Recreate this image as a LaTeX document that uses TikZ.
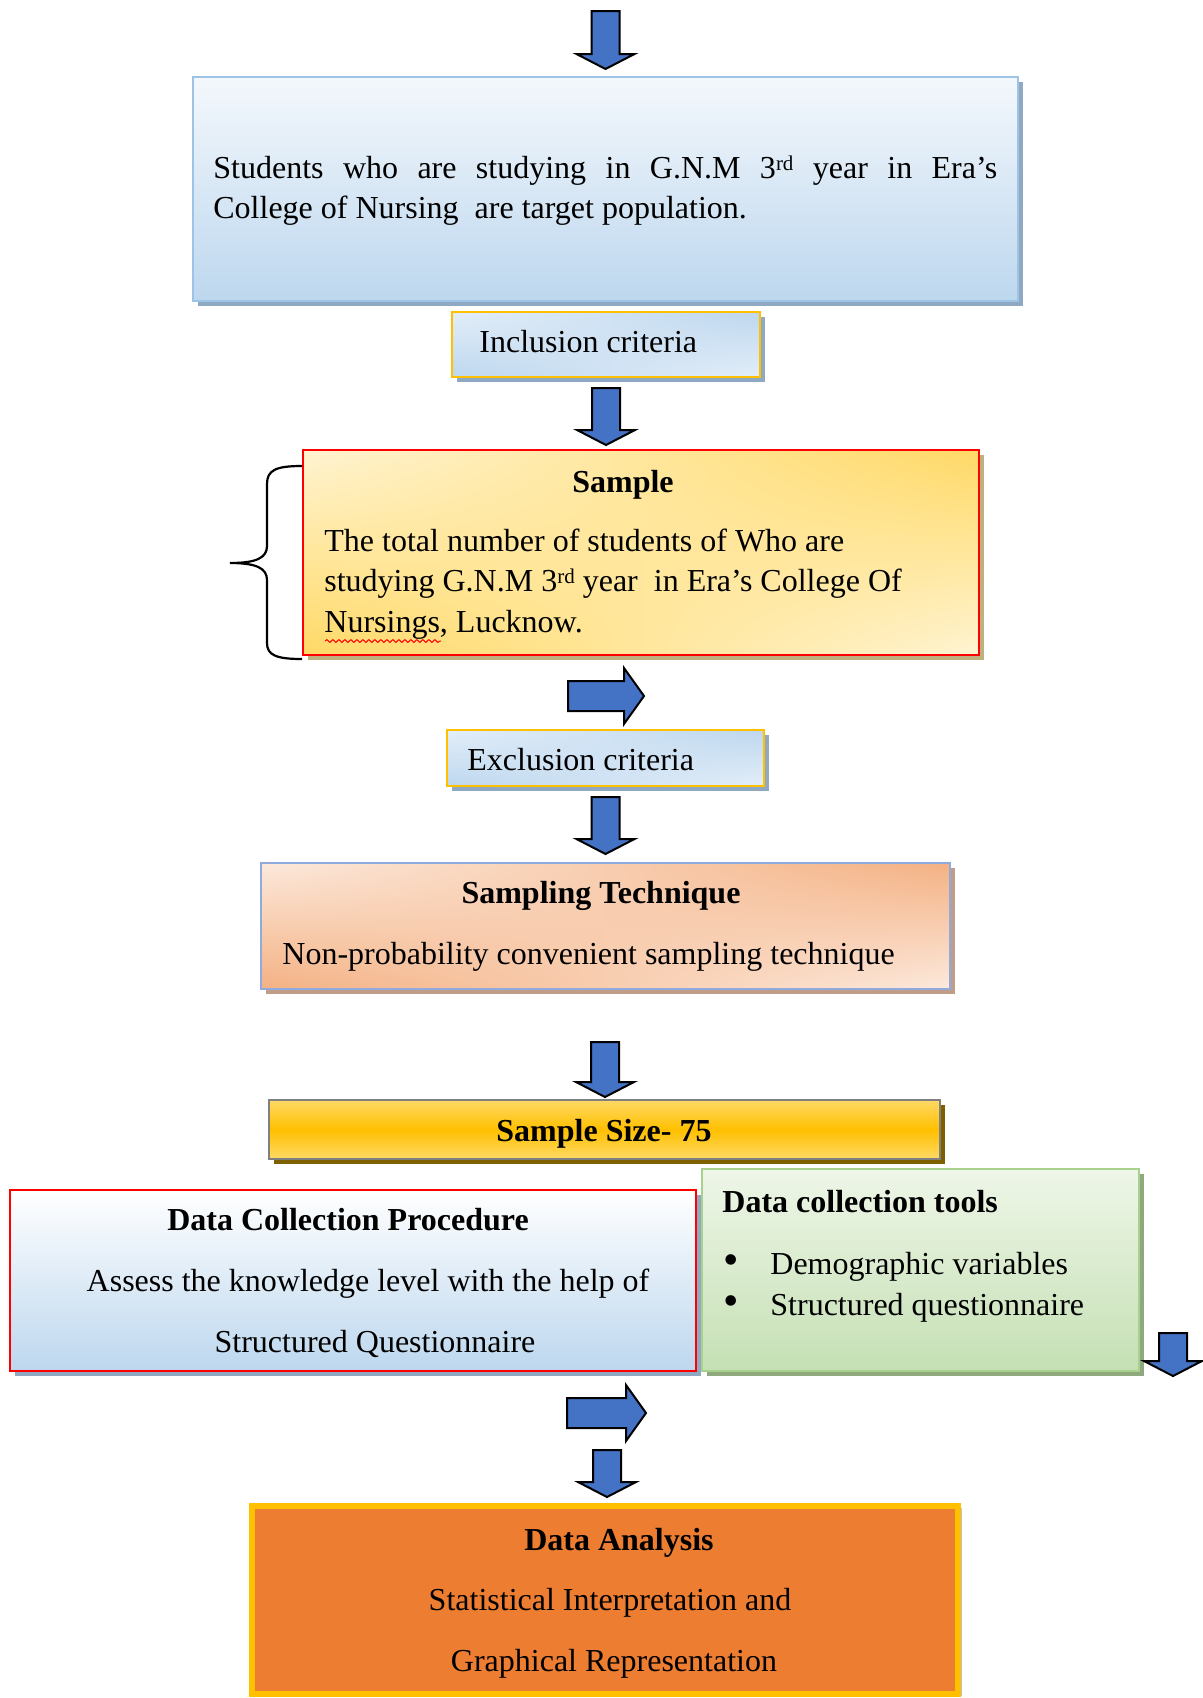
\documentclass[tikz,border=0pt]{standalone}
\usepackage{fontspec}
\setmainfont{Liberation Serif}
\usetikzlibrary{shadows,shadings,decorations.pathmorphing}
\definecolor{arrblue}{HTML}{4472C4}
\definecolor{arrdeep}{HTML}{0070C0}
\definecolor{bluelt}{HTML}{F4F8FC}
\definecolor{bluemd}{HTML}{E3EEF9}
\definecolor{bluedk}{HTML}{BDD7EE}
\definecolor{blueline}{HTML}{9DC3E6}
\definecolor{blueshad}{HTML}{8EA9C1}
\definecolor{goldline}{HTML}{FFC000}
\definecolor{yellt}{HTML}{FFF4D2}
\definecolor{yeldk}{HTML}{FFD966}
\definecolor{tanshad}{HTML}{BFB07F}
\definecolor{peachlt}{HTML}{FCE9DC}
\definecolor{peachdk}{HTML}{F4B183}
\definecolor{peachline}{HTML}{8FAADC}
\definecolor{peachshad}{HTML}{C19C88}
\definecolor{sizeshad}{HTML}{7F6000}
\definecolor{greenlt}{HTML}{EEF6E8}
\definecolor{greendk}{HTML}{C5E0B4}
\definecolor{greenline}{HTML}{A9D18E}
\definecolor{greenshad}{HTML}{8FA87D}
\definecolor{anaorange}{HTML}{ED7D31}
\newcommand{\supr}[1]{\raisebox{0.55ex}{\fontsize{10.5}{10}\selectfont #1}}
\tikzset{
  box/.style={rectangle,draw,line width=1pt,inner sep=0pt},
  shad/.style={drop shadow={shadow xshift=2.5pt,shadow yshift=-2.5pt,opacity=1,fill=#1}},
  % dark corners top right and bottom left
  diag/.style n args={2}{upper left=#2,lower right=#2,upper right=#1,lower left=#1},
  txt/.style={font=\fontsize{16}{20}\selectfont,inner sep=0pt},
  ttl/.style={txt,font=\fontsize{16}{20}\selectfont\bfseries},
  blkarr/.style={draw=black,line width=1pt,fill=arrblue,line join=miter},
  brc/.style={line width=1.1pt},
  spell/.style={draw=red,line width=0.5pt,decorate,
    decoration={snake,amplitude=0.7pt,segment length=3pt}},
  % block arrows, #1 = length
  dnarr/.pic={\draw[blkarr,pic actions] (-14,0) -- (14,0) -- (14,#1-15)
    -- (29,#1-15) -- (0,#1) -- (-29,#1-15) -- (-14,#1-15) -- cycle;},
  rtarr/.pic={\draw[blkarr,pic actions] (0,-15) -- (#1-20,-15) -- (#1-20,-28)
    -- (#1,0) -- (#1-20,28) -- (#1-20,15) -- (0,15) -- cycle;},
}
\begin{document}
\begin{tikzpicture}[x=0.5pt,y=-0.5pt]
  \useasboundingbox (0,0) rectangle (1203,1698);
  % target population
  \node[box,draw=blueline,top color=bluelt,bottom color=bluedk,shad=blueshad,
    minimum width=412.5pt,minimum height=112pt] (target) at (605.5,189) {};
  \node[txt,anchor=base west] (tgt1) at (213,178.5)
    {\makebox[392pt][s]{Students who are studying in G.N.M 3\supr{rd} year in Era’s}};
  \node[txt,anchor=base west] (tgt2) at (213,218.5) {College of Nursing\ \ are target population.};
  \pic at (605.5,11) {dnarr=58};
  % inclusion criteria
  \node[box,draw=goldline,diag={bluedk}{bluemd},shad=blueshad,
    minimum width=154pt,minimum height=32.5pt] (incl) at (606,344.5) {};
  \node[txt,anchor=base west] (incltxt) at (479,352.5) {Inclusion criteria};
  \pic at (606,388) {dnarr=57};
  % sample
  \node[box,draw=red,diag={yeldk}{yellt},shad=tanshad,
    minimum width=338pt,minimum height=102.5pt] (sample) at (641,552.5) {};
  \node[ttl,anchor=base] (smpttl) at (623,492.5) {Sample};
  \node[txt,anchor=base west] (smp1) at (324,551.5) {The total number of students of Who are};
  \node[txt,anchor=base west] (smp2) at (324,591.5) {studying G.N.M 3\supr{rd} year\ \ in Era’s College Of};
  \node[txt,anchor=base west] (smp3) at (324,632.5) {Nursings, Lucknow.};
  \draw[spell] (325,641) -- (441,641);
  \draw[brc] (302,466) .. controls (276,466) and (267,470) .. (267,484) -- (267,546)
    .. controls (267,558) and (256,563) .. (230,563)
    .. controls (256,563) and (267,568) .. (267,580) -- (267,643)
    .. controls (267,655) and (276,659) .. (302,659);
  \pic at (568,696) {rtarr=76};
  % exclusion criteria
  \node[box,draw=goldline,diag={bluedk}{bluemd},shad=blueshad,
    minimum width=158.5pt,minimum height=28pt] (excl) at (605.5,758) {};
  \node[txt,anchor=base west] (excltxt) at (467,770.5) {Exclusion criteria};
  \pic at (605.5,797) {dnarr=57};
  % sampling technique
  \node[box,draw=peachline,diag={peachdk}{peachlt},shad=peachshad,
    minimum width=344.5pt,minimum height=63pt] (technique) at (605.5,926) {};
  \node[ttl,anchor=base] (techttl) at (601,903.5) {Sampling Technique};
  \node[txt,anchor=base west] (techtxt) at (282,964.5) {Non-probability convenient sampling technique};
  \pic at (605,1042) {dnarr=55};
  % sample size
  \node[box,draw=black!50,top color=yeldk,bottom color=yeldk,middle color=goldline,
    shad=sizeshad,minimum width=335.5pt,minimum height=29.5pt] (size) at (604.5,1129.5) {};
  \node[ttl,anchor=base] (sizetxt) at (604,1141.5) {Sample Size- 75};
  % data collection procedure
  \node[box,draw=red,top color=white,bottom color=bluedk,shad=blueshad,
    minimum width=343pt,minimum height=90.5pt] (procedure) at (353,1280.5) {};
  \node[ttl,anchor=base] (procttl) at (348,1230.5) {Data Collection Procedure};
  \node[txt,anchor=base] (proc1) at (368,1291.5) {Assess the knowledge level with the help of};
  \node[txt,anchor=base] (proc2) at (375,1352.5) {Structured Questionnaire};
  % data collection tools
  \node[box,draw=greenline,top color=greenlt,bottom color=greendk,shad=greenshad,
    minimum width=218.5pt,minimum height=101pt] (tools) at (920.5,1270) {};
  \node[ttl,anchor=base west] (toolttl) at (722,1212.5) {Data collection tools};
  \foreach \yy/\item [count=\i] in {1274.5/Demographic variables,1315.5/Structured questionnaire}{
    \node[txt,anchor=base] (bul\i) at (731,\yy) {\fontsize{22}{20}\selectfont\textbullet};
    \node[txt,anchor=base west] (tool\i) at (770,\yy) {\item};
  }
  \pic at (1173,1333) {dnarr=43};
  \pic[fill=arrdeep] at (567,1413) {rtarr=79};
  \pic at (607,1450) {dnarr=47};
  % data analysis
  \node[box,draw=goldline,line width=3pt,fill=anaorange,
    drop shadow={shadow xshift=2pt,shadow yshift=-1pt,opacity=0.6,fill=black!40},
    minimum width=353pt,minimum height=94pt] (analysis) at (605,1600) {};
  \node[ttl,anchor=base] (anattl) at (619,1550.5) {Data Analysis};
  \node[txt,anchor=base] (ana1) at (610,1610.5) {Statistical Interpretation and};
  \node[txt,anchor=base] (ana2) at (614,1671.5) {Graphical Representation};
\end{tikzpicture}
\end{document}
